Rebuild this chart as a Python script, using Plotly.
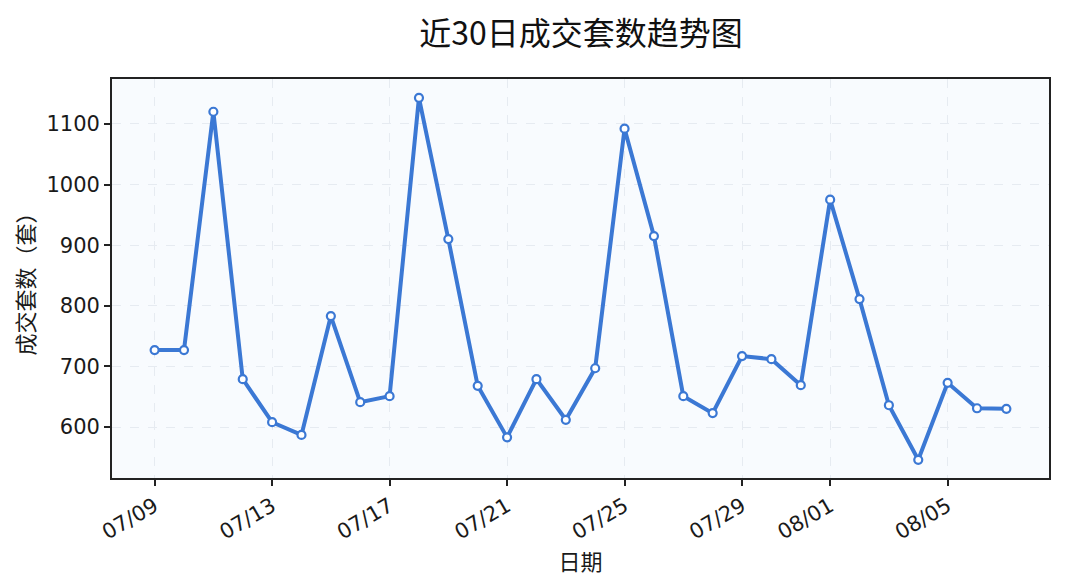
import plotly.graph_objects as go

# 近30日成交数据
dates = [
    "2024-07-09", "2024-07-10", "2024-07-11", "2024-07-12", "2024-07-13",
    "2024-07-14", "2024-07-15", "2024-07-16", "2024-07-17", "2024-07-18",
    "2024-07-19", "2024-07-20", "2024-07-21", "2024-07-22", "2024-07-23",
    "2024-07-24", "2024-07-25", "2024-07-26", "2024-07-27", "2024-07-28",
    "2024-07-29", "2024-07-30", "2024-07-31", "2024-08-01", "2024-08-02",
    "2024-08-03", "2024-08-04", "2024-08-05", "2024-08-06", "2024-08-07",
]
deals = [
    727, 727, 1120, 679, 608, 587, 783, 641, 651, 1143,
    910, 668, 583, 679, 612, 697, 1092, 915, 651, 623,
    717, 712, 669, 975, 811, 636, 546, 673, 631, 630,
]
tick_dates = ["2024-07-09", "2024-07-13", "2024-07-17", "2024-07-21",
              "2024-07-25", "2024-07-29", "2024-08-01", "2024-08-05"]
tick_text = ["07/09", "07/13", "07/17", "07/21", "07/25", "07/29", "08/01", "08/05"]

font = "DejaVu Sans, Noto Sans CJK SC, sans-serif"
cjk = "Noto Sans CJK SC, sans-serif"
line_c = "#3b78d4"

fig = go.Figure()
fig.add_trace(go.Scatter(
    x=dates, y=deals, mode="lines+markers",
    line=dict(color=line_c, width=4),
    marker=dict(size=8, color="white", line=dict(color=line_c, width=2.2)),
    showlegend=False,
))

# 页面有8px边距，整体尺寸相应缩小
fig.update_layout(
    width=1057, height=579,
    paper_bgcolor="white",
    plot_bgcolor="#f8fbfe",
    font=dict(family=font, color="#1a1a1a", size=21),
    title=dict(text="近30日成交套数趋势图", x=0.542, xanchor="center",
               yref="container", y=0.955, yanchor="middle",
               font=dict(family=cjk, size=32, color="#111")),
    margin=dict(l=104, r=16, t=71, b=109),
)
fig.update_xaxes(
    type="date",
    range=["2024-07-07 13:10", "2024-08-08 10:50"],
    tickvals=tick_dates, ticktext=tick_text, tickangle=-30,
    ticks="outside", ticklen=6, tickwidth=1.5, tickcolor="#222",
    showline=True, linecolor="#222", linewidth=1.8, mirror=True,
    showgrid=True, gridcolor="#e6ebf1", griddash="dash", gridwidth=1,
    zeroline=False,
    title=dict(text="日期", font=dict(family=cjk, size=22), standoff=0),
)
fig.update_yaxes(
    range=[516, 1174],
    tickvals=[600, 700, 800, 900, 1000, 1100],
    ticks="outside", ticklen=6, tickwidth=1.5, tickcolor="#222",
    showline=True, linecolor="#222", linewidth=1.8, mirror=True,
    showgrid=True, gridcolor="#e6ebf1", griddash="dash", gridwidth=1,
    zeroline=False,
    title=dict(text="成交套数（套）", font=dict(family=cjk, size=22), standoff=8),
)

fig.write_html("out.html")
